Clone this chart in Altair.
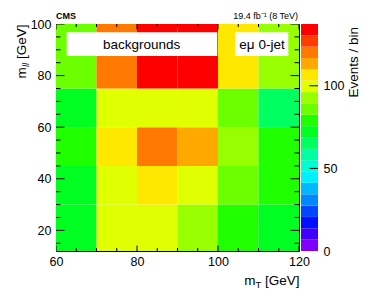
import altair as alt
import pandas as pd

# ---- data ----
x_edges = [60, 70, 80, 90, 100, 110, 120]          # m_T bin edges [GeV]
y_edges = [12, 30, 45, 60, 75, 100]                # m_ll bin edges [GeV]
# events / bin, rows from bottom to top, columns left to right
row_12_30 = [72, 100, 100, 93, 76, 72]
row_30_45 = [72, 100, 107, 100, 86, 79]
row_45_60 = [79, 107, 120, 113, 93, 79]
row_60_75 = [72, 100, 100, 100, 86, 65]
row_75_100 = [86, 120, 135, 137, 107, 93]
z_max = 137.4

x_ticks = list(range(60, 121, 5))
y_ticks = list(range(15, 101, 5))
x_labels = [60, 80, 100, 120]
y_labels = [20, 40, 60, 80, 100]
z_labels = [0, 50, 100]
z_ticks = [50, 100]

palette = ["#7f00ff", "#4000ff", "#0010ff", "#0048ff", "#0088ff",
           "#00b8ff", "#00f0ff", "#00ffd0", "#00ffa0", "#00ff60",
           "#00ff20", "#20ff00", "#6cff00", "#98ff00", "#e0ff00",
           "#ffe800", "#ffa800", "#ff7800", "#ff3c00", "#ff0000"]

# ---- tables ----
rows = [row_12_30, row_30_45, row_45_60, row_60_75, row_75_100]
cells = []
for j, row in enumerate(rows):
    for i, v in enumerate(row):
        cells.append({"x0": x_edges[i], "x1": x_edges[i + 1],
                      "y0": y_edges[j], "y1": y_edges[j + 1], "v": v})
cells = pd.DataFrame(cells)

n = len(palette)
bands = pd.DataFrame({"lo": [k * z_max / n for k in range(n)],
                      "hi": [(k + 1) * z_max / n for k in range(n)]})
bands["mid"] = (bands["lo"] + bands["hi"]) / 2

W, H = 243, 227
F = "Liberation Sans"

xs = alt.Scale(domain=[x_edges[0], x_edges[-1]], nice=False, zero=False)
ys = alt.Scale(domain=[y_edges[0], y_edges[-1]], nice=False, zero=False)
zs = alt.Scale(domain=[0, z_max], nice=False, zero=False)
cs = alt.Scale(type="quantize", domain=[0, z_max], range=palette, nice=False)

lab = dict(ticks=False, domain=False, grid=False, labelFont=F, labelFontSize=12.5,
           labelColor="black", labelFlush=False, title=None)
x_axis = alt.Axis(values=x_labels, labelPadding=4, **lab)
y_axis = alt.Axis(values=y_labels, labelPadding=5, **lab)
z_axis = alt.Axis(orient="right", offset=19, values=z_labels, labelPadding=5, **lab)

heat = alt.Chart(cells).mark_rect().encode(
    x=alt.X("x0:Q", scale=xs, axis=x_axis),
    x2="x1:Q",
    y=alt.Y("y0:Q", scale=ys, axis=y_axis),
    y2="y1:Q",
    color=alt.Color("v:Q", scale=cs, legend=None),
)

xt = pd.DataFrame({"v": x_ticks})
yt = pd.DataFrame({"v": y_ticks})
tick_kw = dict(clip=True, color="black", opacity=1, thickness=1)
xsize = alt.condition("datum.v % 20 == 0", alt.value(11), alt.value(6))
ysize = alt.condition("datum.v % 20 == 0", alt.value(17), alt.value(9))
xt_bottom = alt.Chart(xt).mark_tick(orient="vertical", **tick_kw).encode(
    x=alt.X("v:Q", scale=xs, axis=x_axis), y=alt.value(H), size=xsize)
xt_top = alt.Chart(xt).mark_tick(orient="vertical", **tick_kw).encode(
    x=alt.X("v:Q", scale=xs, axis=x_axis), y=alt.value(0), size=xsize)
yt_left = alt.Chart(yt).mark_tick(orient="horizontal", **tick_kw).encode(
    y=alt.Y("v:Q", scale=ys, axis=y_axis), x=alt.value(0), size=ysize)
yt_right = alt.Chart(yt).mark_tick(orient="horizontal", **tick_kw).encode(
    y=alt.Y("v:Q", scale=ys, axis=y_axis), x=alt.value(W), size=ysize)


def one(t):
    return pd.DataFrame({"t": [t]})


def txt(t, x, y, size=13.5, align="center", angle=0, weight="normal", style="normal"):
    return alt.Chart(one(t)).mark_text(
        font=F, fontSize=size, align=align, baseline="alphabetic", angle=angle,
        fontWeight=weight, fontStyle=style, color="black"
    ).encode(x=alt.value(x), y=alt.value(y), text="t:N")


box1 = alt.Chart(one("b")).mark_rect(color="white").encode(
    x=alt.value(10.7), x2=alt.value(161.3), y=alt.value(8.3), y2=alt.value(32))
box2 = alt.Chart(one("b")).mark_rect(color="white").encode(
    x=alt.value(179), x2=alt.value(232.3), y=alt.value(8.3), y2=alt.value(32))

texts = [
    txt("backgrounds", 85.7, 24.5),
    txt("eμ 0-jet", 206, 24.5),
    txt("CMS", 0, -5, size=9, align="left", weight="bold"),
    txt("19.4 fb⁻¹ (8 TeV)", 242, -5.5, size=9, align="right"),
    # x title  m_T [GeV]
    txt("[GeV]", 243.5, 260.5, align="right"),
    txt("T", 205.2, 263.5, size=9.5, align="right"),
    txt("m", 199.4, 260.5, align="right"),
    # y title  m_ll [GeV]
    txt("[GeV]", -30, 0.5, align="right", angle=270),
    txt("ll", -27, 38.8, size=9.5, align="right", angle=270, style="italic"),
    txt("m", -30, 43.2, align="right", angle=270),
    # colour bar title
    txt("Events / bin", 302, 3, align="right", angle=270),
]

main = alt.layer(heat, xt_bottom, xt_top, yt_left, yt_right, box1, box2, *texts)

cbar = alt.Chart(bands).mark_rect().encode(
    x=alt.value(245), x2=alt.value(262),
    y=alt.Y("lo:Q", scale=zs, axis=z_axis),
    y2="hi:Q",
    color=alt.Color("mid:Q", scale=cs, legend=None),
)
cbar_ticks = alt.Chart(pd.DataFrame({"v": z_ticks})).mark_rule(color="black").encode(
    y=alt.Y("v:Q", scale=zs, axis=z_axis), x=alt.value(253.5), x2=alt.value(262))

cb = alt.layer(cbar, cbar_ticks)

chart = alt.layer(main, cb).resolve_scale(y="independent").properties(
    width=W, height=H,
    autosize=alt.AutoSizeParams(type="none"),
    padding={"left": 48, "top": 16, "right": 67, "bottom": 37},
).configure_view(stroke="black", strokeWidth=1)

chart.save("out.html", embed_options={"renderer": "svg", "actions": False})
